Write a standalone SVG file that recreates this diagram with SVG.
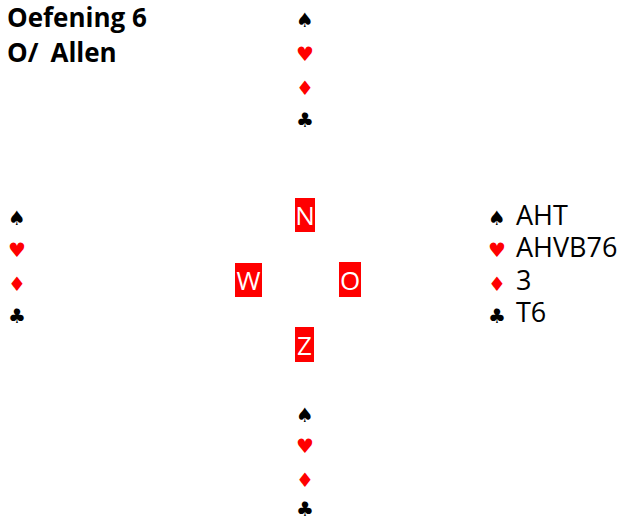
<svg xmlns="http://www.w3.org/2000/svg" width="624" height="517" viewBox="0 0 624 517">
<style>
.title{font-family:"Open Sans","Liberation Sans",sans-serif;font-weight:bold;font-size:26px;fill:#000}
.s{font-family:"DejaVu Sans",sans-serif;font-size:20px;text-anchor:middle}
.b{fill:#000}.r{fill:#ff0000}
.t{font-family:"Open Sans","Liberation Sans",sans-serif;font-size:27px;fill:#000}
.box{fill:#ff0000}
.l{font-family:"Open Sans","Liberation Sans",sans-serif;font-size:26px;fill:#fff;text-anchor:middle}
</style>
<rect width="624" height="517" fill="#fff"/>
<g id="title">
<text class="title" x="7" y="27">Oefening 6</text>
<text class="title" x="7" y="62">O/<tspan dx="12">Allen</tspan></text>
</g>
<g id="north">
<text class="s b" x="305" y="27">♠</text>
<text class="s r" x="305" y="61">♥</text>
<text class="s r" x="305" y="95">♦</text>
<text class="s b" x="305" y="127">♣</text>
</g>
<g id="west">
<text class="s b" x="17" y="225">♠</text>
<text class="s r" x="17" y="257">♥</text>
<text class="s r" x="17" y="291">♦</text>
<text class="s b" x="17" y="323">♣</text>
</g>
<g id="east">
<text class="s b" x="497" y="225">♠</text>
<text class="s r" x="497" y="257">♥</text>
<text class="s r" x="497" y="291">♦</text>
<text class="s b" x="497" y="323">♣</text>
<text class="t" x="516" y="225">AHT</text>
<text class="t" x="516" y="257">AHVB76</text>
<text class="t" x="516" y="290">3</text>
<text class="t" x="516" y="322">T6</text>
</g>
<g id="south">
<text class="s b" x="305" y="422">♠</text>
<text class="s r" x="305" y="453">♥</text>
<text class="s r" x="305" y="487">♦</text>
<text class="s b" x="305" y="516">♣</text>
</g>
<g id="compass-n"><rect class="box" x="295" y="198" width="20" height="34"/><text class="l" x="305" y="225">N</text></g>
<g id="compass-w"><rect class="box" x="235" y="263" width="27" height="34"/><text class="l" x="248.5" y="290">W</text></g>
<g id="compass-o"><rect class="box" x="339" y="262" width="22" height="35"/><text class="l" x="350" y="290">O</text></g>
<g id="compass-z"><rect class="box" x="295" y="327" width="19" height="35"/><text class="l" x="304.5" y="355">Z</text></g>
<g id="connectors"></g>
</svg>
